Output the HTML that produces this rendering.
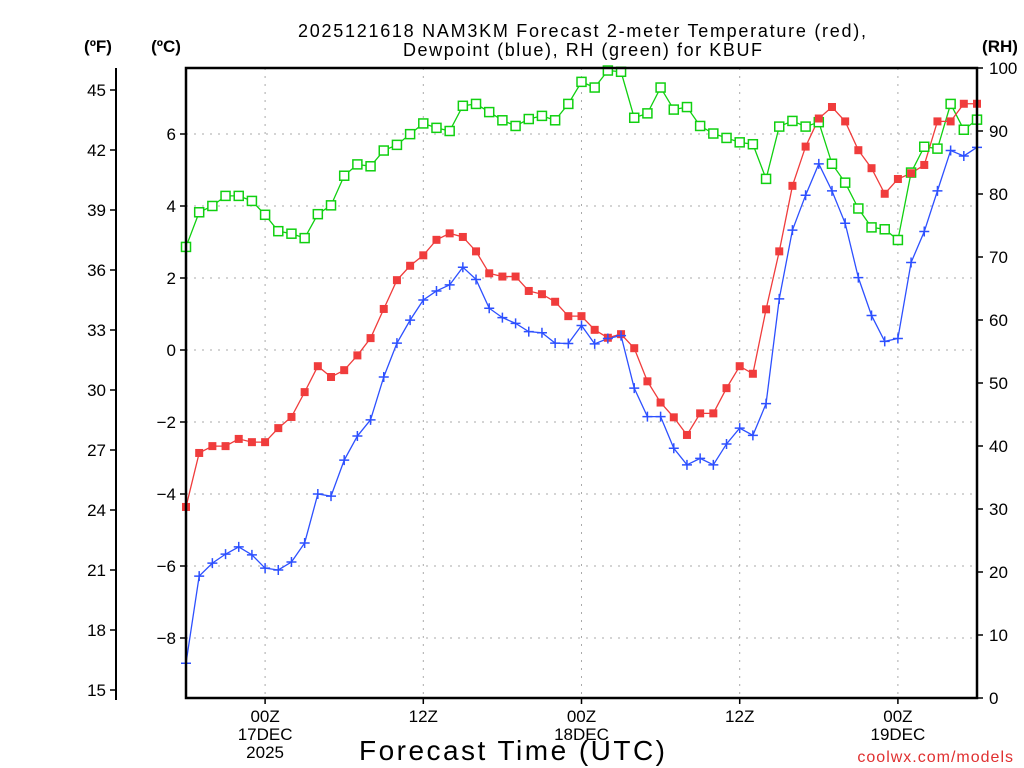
<!DOCTYPE html>
<html><head><meta charset="utf-8"><style>
body{margin:0;background:#fff;}
svg{display:block;font-family:"Liberation Sans",sans-serif;}
</style></head><body>
<svg id="chart" width="1024" height="768" viewBox="0 0 1024 768">
<text x="298" y="37" font-size="18" textLength="568" lengthAdjust="spacing" fill="#000">2025121618 NAM3KM Forecast 2-meter Temperature (red),</text>
<text x="403" y="56" font-size="18" textLength="359" lengthAdjust="spacing" fill="#000">Dewpoint (blue), RH (green) for KBUF</text>
<text x="98" y="52" font-size="17" font-weight="bold" text-anchor="middle">(ºF)</text>
<text x="166" y="52" font-size="17" font-weight="bold" text-anchor="middle">(ºC)</text>
<text x="1000" y="52" font-size="17" font-weight="bold" text-anchor="middle">(RH)</text>
<g id="grid"></g>
<g id="axes"></g>
<g id="series"></g>
<rect x="186" y="68" width="791" height="630" fill="none" stroke="#000" stroke-width="2.5"/>
<text x="359" y="760" font-size="28" textLength="306" lengthAdjust="spacing">Forecast Time (UTC)</text>
<text x="1014" y="762" font-size="16" text-anchor="end" fill="#e03030" letter-spacing="1">coolwx.com/models</text>
</svg>
<script>
const tempC = [-4.36,-2.86,-2.67,-2.67,-2.47,-2.56,-2.56,-2.17,-1.86,-1.17,-0.45,-0.75,-0.56,-0.15,0.33,1.14,1.94,2.34,2.63,3.06,3.24,3.14,2.74,2.13,2.04,2.04,1.64,1.55,1.34,0.94,0.94,0.56,0.34,0.44,0.05,-0.87,-1.46,-1.87,-2.36,-1.76,-1.76,-1.06,-0.45,-0.66,1.13,2.74,4.56,5.65,6.43,6.75,6.35,5.55,5.05,4.34,4.75,4.91,5.14,6.35,6.35,6.84,6.84];
const dewC = [-8.7,-6.28,-5.92,-5.67,-5.47,-5.69,-6.06,-6.11,-5.89,-5.36,-4.0,-4.06,-3.06,-2.39,-1.94,-0.75,0.19,0.83,1.39,1.64,1.81,2.3,1.96,1.16,0.9,0.74,0.51,0.48,0.19,0.18,0.68,0.17,0.32,0.4,-1.06,-1.85,-1.85,-2.73,-3.19,-3.01,-3.19,-2.61,-2.17,-2.37,-1.49,1.42,3.33,4.3,5.17,4.42,3.52,2.01,0.96,0.24,0.32,2.43,3.29,4.42,5.54,5.39,5.63];
const rh = [71.6,77.1,78.1,79.7,79.7,78.9,76.7,74.1,73.7,73.0,76.8,78.2,82.9,84.7,84.4,86.9,87.8,89.5,91.2,90.5,90.0,94.0,94.3,93.0,91.7,90.8,91.9,92.4,91.7,94.3,97.8,96.9,99.6,99.4,92.1,92.8,96.9,93.4,93.8,90.8,89.6,88.9,88.2,87.9,82.4,90.7,91.6,90.7,91.4,84.8,81.8,77.7,74.7,74.4,72.7,83.4,87.5,87.2,94.3,90.2,91.8];
const celsiusTicks = [-8,-6,-4,-2,0,2,4,6];
const fahrenheitTicks = [15,18,21,24,27,30,33,36,39,42,45];
const rhTicks = [0,10,20,30,40,50,60,70,80,90,100];
const timeTicks = [6,18,30,42,54];
const timeLabels = [["00Z","17DEC","2025"],["12Z"],["00Z","18DEC"],["12Z"],["00Z","19DEC"]];

const NS="http://www.w3.org/2000/svg";
const X0=186,X1=977,Y0=68,Y1=698,NH=60;
const xs=h=>X0+(X1-X0)*h/NH;
const yC=c=>350-36*c;
const yF=f=>yC((f-32)/1.8);
const yR=r=>Y1-(Y1-Y0)*r/100;
function mk(tag,attrs,parent,text){const e=document.createElementNS(NS,tag);for(const k in attrs)e.setAttribute(k,attrs[k]);if(text!==undefined)e.textContent=text;parent.appendChild(e);return e;}
const grid=document.getElementById('grid'),axes=document.getElementById('axes'),series=document.getElementById('series');
celsiusTicks.forEach(c=>{
  const l=mk('line',{x1:X0,x2:X1,y1:yC(c),y2:yC(c),stroke:'#aaa','stroke-dasharray':'2 6'},grid);
  
  
  mk('line',{x1:X0-6,x2:X0,y1:yC(c),y2:yC(c),stroke:'#000','stroke-width':1.5},axes);
  const t=mk('text',{x:X0-10,y:yC(c)+6,'font-size':17,'text-anchor':'end'},axes,(c<0?'\u2212'+(-c):''+c));
  
  
});
mk('line',{x1:116,x2:116,y1:Y0,y2:Y1+2,stroke:'#000','stroke-width':2},axes);
fahrenheitTicks.forEach(f=>{
  mk('line',{x1:110,x2:116,y1:yF(f),y2:yF(f),stroke:'#000','stroke-width':1.5},axes);
  const t=mk('text',{x:106,y:yF(f)+6,'font-size':17,'text-anchor':'end'},axes,''+f);
  
  
});
rhTicks.forEach(r=>{
  mk('line',{x1:X1,x2:X1+6,y1:yR(r),y2:yR(r),stroke:'#000','stroke-width':1.5},axes);
  const t=mk('text',{x:X1+12,y:yR(r)+6,'font-size':17},axes,''+r);
  
  
});
timeTicks.forEach((h,i)=>{
  const l=mk('line',{x1:xs(h),x2:xs(h),y1:Y0,y2:Y1,stroke:'#aaa','stroke-dasharray':'2 6'},grid);
  
  
  mk('line',{x1:xs(h),x2:xs(h),y1:Y1,y2:Y1+6,stroke:'#000','stroke-width':1.5},axes);
  timeLabels[i].forEach((s,j)=>{
    const t=mk('text',{x:xs(h),y:722+j*18,'font-size':17,'text-anchor':'middle'},axes,s);
    
    
  });
});
function line(arr,yf,color,name){
  const p=mk('polyline',{points:arr.map((v,i)=>xs(i)+','+yf(v)).join(' '),fill:'none',stroke:color,'stroke-width':1.3},series);
  
  
}
line(rh,yR,'#10d010','rh-line');
line(tempC,yC,'#f03c3c','temperature-line');
line(dewC,yC,'#2d50ff','dewpoint-line');
rh.forEach((v,i)=>{
  const r=mk('rect',{x:xs(i)-4.5,y:yR(v)-4.5,width:9,height:9,fill:'#fff',stroke:'#10d010','stroke-width':1.5},series);
  
  
});
tempC.forEach((v,i)=>{
  const r=mk('rect',{x:xs(i)-4,y:yC(v)-4,width:8,height:8,fill:'#f03c3c'},series);
  
  
});
dewC.forEach((v,i)=>{
  const p=mk('path',{d:`M${xs(i)-5},${yC(v)}h10M${xs(i)},${yC(v)-5}v10`,stroke:'#2d50ff','stroke-width':1.5},series);
  
  
});
</script>
</body></html>
